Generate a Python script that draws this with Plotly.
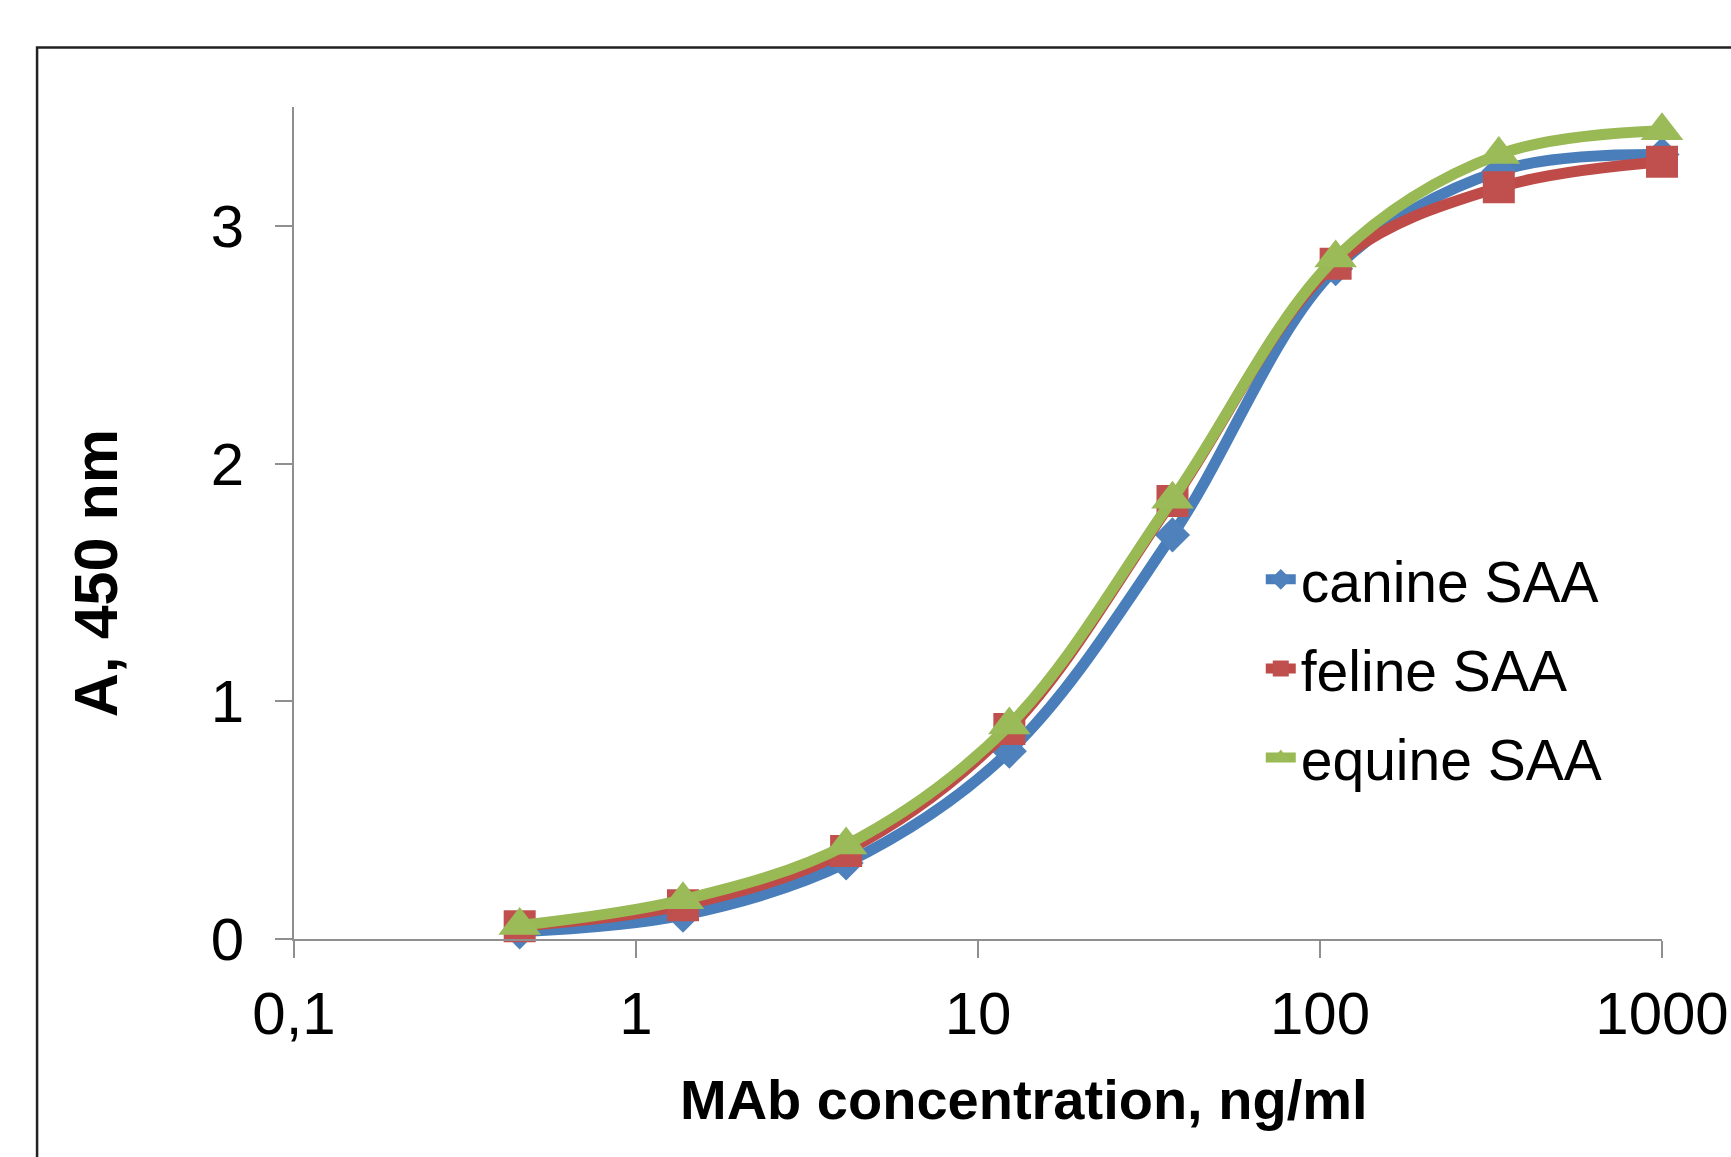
import plotly.graph_objects as go

# ---- data ----
conc_ng_ml = [0.457, 1.372, 4.115, 12.35, 37.04, 111.1, 333.3, 1000]
canine_saa = [0.03, 0.10, 0.32, 0.79, 1.70, 2.82, 3.23, 3.30]
feline_saa = [0.054, 0.142, 0.37, 0.883, 1.843, 2.841, 3.162, 3.27]
equine_saa = [0.057, 0.165, 0.395, 0.90, 1.85, 2.865, 3.30, 3.40]

series_names = ["canine SAA", "feline SAA", "equine SAA"]
x_tickvals = [0.1, 1, 10, 100, 1000]
x_ticktext = ["0,1", "1", "10", "100", "1000"]
y_tickvals = [0, 1, 2, 3]
y_ticktext = ["0", "1", "2", "3"]

# ---- geometry (pixels) ----
W, H = 1731, 1157
L, R, T, B = 293.6, 1662.5, 107.0, 939.5
pw, ph = R - L, B - T


def px(xp):
    return (xp - L) / pw


def py(yp):
    return (B - yp) / ph


FONT = "Liberation Sans, Arial, sans-serif"
AXIS_GRAY = "#8f8f8f"

styles = [
    dict(line="#4A7EBB", marker="#4F81BD", symbol="diamond", size=27),
    dict(line="#BE4B48", marker="#C0504D", symbol="square", size=32),
    dict(line="#98B954", marker="#9BBB59", symbol="triangle-up", size=37),
]

fig = go.Figure()
for name, ys, st in zip(series_names, [canine_saa, feline_saa, equine_saa], styles):
    fig.add_trace(go.Scatter(
        x=conc_ng_ml, y=ys, name=name, mode="lines+markers",
        line=dict(color=st["line"], width=11, shape="spline", smoothing=1.0),
        marker=dict(color=st["marker"], symbol=st["symbol"], size=st["size"],
                    line=dict(width=0)),
        legendgroup=name, cliponaxis=False,
    ))

fig.update_layout(
    width=W, height=H,
    margin=dict(l=L, r=W - R, t=T, b=H - B, pad=0, autoexpand=False),
    paper_bgcolor="white", plot_bgcolor="white",
    font=dict(family=FONT, color="black"),
    showlegend=True,
    legend=dict(
        x=px(1261), y=py(536), xanchor="left", yanchor="top",
        font=dict(family=FONT, size=57, color="black"),
        bgcolor="rgba(0,0,0,0)", borderwidth=0,
        traceorder="grouped", tracegroupgap=12,
        itemsizing="trace",
    ),
    xaxis=dict(
        type="log", range=[-1, 3], automargin=False,
        tickmode="array", tickvals=x_tickvals, ticktext=x_ticktext,
        ticks="outside", ticklen=17, tickwidth=2, tickcolor=AXIS_GRAY,
        showline=True, linecolor=AXIS_GRAY, linewidth=2,
        showgrid=False, zeroline=False,
        tickfont=dict(family=FONT, size=60, color="black"),
        ticklabelstandoff=4,
    ),
    yaxis=dict(
        range=[0, 3.5], automargin=False,
        tickmode="array", tickvals=y_tickvals, ticktext=y_ticktext,
        ticks="outside", ticklen=17, tickwidth=2, tickcolor=AXIS_GRAY,
        showline=True, linecolor=AXIS_GRAY, linewidth=2,
        showgrid=False, zeroline=False,
        tickfont=dict(family=FONT, size=60, color="black"),
        ticklabelstandoff=19,
    ),
    annotations=[
        dict(text="<b>MAb concentration, ng/ml</b>", xref="paper", yref="paper",
             x=px(1024), y=py(1100), xanchor="center", yanchor="middle",
             showarrow=False, font=dict(family=FONT, size=56, color="black")),
        dict(text="<b>A, 450 nm</b>", xref="paper", yref="paper",
             x=px(95), y=py(574), xanchor="center", yanchor="middle",
             textangle=-90, showarrow=False,
             font=dict(family=FONT, size=61, color="black")),
    ],
    shapes=[
        dict(type="rect", xref="paper", yref="paper",
             x0=px(36.5), x1=px(W + 20), y0=py(47.5), y1=py(H + 20),
             line=dict(color="#222222", width=2.5), fillcolor="rgba(0,0,0,0)",
             layer="below"),
    ],
)

fig.write_html("out.html")
